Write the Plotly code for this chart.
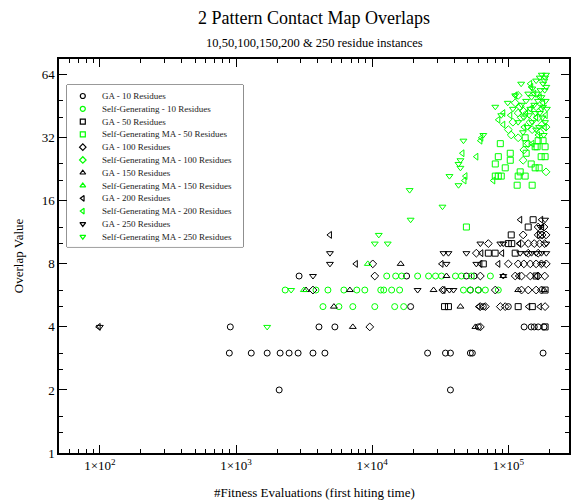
import plotly.graph_objects as go

# ---------------- data ----------------
ga10_x = [893, 1294, 1694, 2109, 2455, 2858, 3675, 4497, 25530, 34540, 37560, 52600, 54400, 179900,
          2075, 37560,
          908, 4066, 5323, 60200, 130600, 147200, 155000, 165600, 182800,
          19160, 65500, 100000,
          52600, 60200,
          2905, 17910, 49200, 56000]
ga10_y = [3]*14 + [2]*2 + [4]*9 + [5]*3 + [6]*2 + [7]*4

sg10_x = [12790, 14880, 16460, 21560, 25950, 29200, 32300, 40910, 45240, 53500, 73800,
          2296, 3866, 4732, 6196, 7713, 8831, 11560, 12160, 13900, 15910, 46800, 52600, 60200, 67800, 84400,
          4352, 5699, 7208, 10450, 14630, 17030]
sg10_y = [7]*11 + [6]*15 + [5]*6

ga50_x = [152100, 139900, 105000, 100000, 106000, 71300, 80000, 112300, 65500, 34000, 36320,
          118100, 150000, 186200, 186200, 160000, 172000]
ga50_y = [13, 12, 11, 10, 10, 9, 9, 9, 8, 5, 5, 5, 5, 6, 4, 7, 11]

sg50_x = [49200, 132900, 179900, 165600, 157400, 186200, 174200, 103300, 103300, 84400, 80200, 94900,
          135200, 162600, 147200, 157400, 168300, 80200, 84400, 88700, 118100, 132900, 116100, 149600,
          87300, 135200, 186200, 122200]
sg50_y = [12, 32, 31, 31, 29, 26, 26, 27, 25, 26, 24, 23,
          27, 29, 24, 23, 23, 21, 21, 21, 21, 21, 19, 19,
          30, 30, 29, 22]

ga100_x = [10100, 10450, 3675, 9601,
           165600, 182800,
           128500, 165600, 177000, 189200,
           71300, 124200, 140000, 155000, 170000, 185000,
           58200, 140000, 165600,
           100000, 118100, 130000, 145000, 160000, 175000, 190000,
           62300, 112300, 125000, 145000, 165600, 185000,
           33000, 80200, 125000, 140000, 160000, 175000,
           62300, 67800, 87300, 94900, 186200,
           62300]
ga100_y = [8, 7, 6, 4] + [12]*2 + [11]*4 + [10]*6 + [9]*3 + [8]*7 + [7]*6 + [6]*6 + [5]*5 + [4]

sg100_x = [118100, 112300, 122200, 128500, 118100, 124200, 100000, 105000, 118100, 149600, 189200,
           128500, 189200, 165600, 177000, 160000, 144600, 171000, 108000, 140000, 130000]
sg100_y = [51, 47, 45, 43, 42, 40, 35, 33, 32, 35, 36,
           25, 22, 40, 37, 45, 38, 34, 38, 30, 28]

ga150_x = [3268, 5236, 6855, 7208, 16190, 35130, 28240, 44480, 57300, 91800, 118100, 182800]
ga150_y = [6, 5, 6, 4, 8, 7, 6, 5, 4, 7, 6, 6]

sg150_x = [9290, 3150]
sg150_y = [8, 6]

ga200_x = [98, 4895, 7586, 122200, 174200, 177000, 120000, 63300, 90000, 32300, 62300, 84400,
           118100, 160000, 33390, 60200, 140000, 170000]
ga200_y = [4, 11, 8, 13, 13, 12, 10, 9, 9, 8, 8, 8,
           7, 7, 6, 5, 5, 5]

sg200_x = [46000, 58200, 48400, 47600, 144600, 103300, 91800, 84400, 91800, 63300, 62300, 77500,
           112300, 147200, 155000, 170000, 180000, 160000, 145000, 175000, 188000, 135000, 165000,
           185000, 150000, 130000]
sg200_y = [27, 26, 21, 20, 58, 41, 42, 39, 37, 32, 31, 20,
           51, 56, 52, 50, 47, 40, 44, 44, 41, 42, 33,
           36, 30, 36]

ga250_x = [100, 3675, 4895, 4895, 21560, 35130, 33390, 36320, 49200, 62300, 87300, 91800, 122200,
           135000, 148000, 160000, 175000, 190000, 58200, 36950, 39540, 91800, 186200, 190000,
           178000, 172000]
ga250_y = [4, 7, 9, 8, 6, 8, 9, 9, 9, 10, 10, 10, 9,
           9, 9, 9, 9, 9, 8, 6, 6, 7, 13, 10,
           8, 12]

sg250_x = [1694, 2541, 19160, 11180, 10450, 13010, 18840, 32830, 36950, 43050, 46800, 44480, 43050,
           44480, 65500, 80200, 88700, 112300, 124200, 189200, 186200, 140000, 150000, 160000, 170000,
           180000, 185000, 175000, 165000, 155000, 145000, 135000, 130000, 150000, 160000, 170000,
           180000, 188000, 190000, 178000, 168000, 158000, 148000, 138000, 128000, 182000, 186000,
           192000, 172000, 162000, 176000, 184000, 142000, 125000, 118000, 99000, 108000]
sg250_y = [4, 6, 13, 11, 10, 10, 18, 15, 21, 19, 31, 25, 24,
           23, 33, 45, 41, 51, 58, 64, 62, 52, 55, 60, 62,
           58, 54, 50, 48, 46, 44, 48, 40, 38, 35, 42,
           45, 48, 56, 40, 36, 42, 50, 36, 34, 33, 38,
           44, 54, 52, 64, 60, 41, 46, 38, 47, 44]

series = [
    ("GA - 10 Residues", ga10_x, ga10_y, "circle-open", "black", 6),
    ("Self-Generating - 10 Residues", sg10_x, sg10_y, "circle-open", "#00ff00", 6),
    ("GA - 50 Residues", ga50_x, ga50_y, "square-open", "black", 6),
    ("Self-Generating MA - 50 Residues", sg50_x, sg50_y, "square-open", "#00ff00", 6),
    ("GA - 100 Residues", ga100_x, ga100_y, "diamond-open", "black", 6),
    ("Self-Generating MA - 100 Residues", sg100_x, sg100_y, "diamond-open", "#00ff00", 6),
    ("GA - 150 Residues", ga150_x, ga150_y, "triangle-up-open", "black", 6),
    ("Self-Generating MA - 150 Residues", sg150_x, sg150_y, "triangle-up-open", "#00ff00", 6),
    ("GA - 200 Residues", ga200_x, ga200_y, "triangle-left-open", "black", 6),
    ("Self-Generating MA - 200 Residues", sg200_x, sg200_y, "triangle-left-open", "#00ff00", 6),
    ("GA - 250 Residues", ga250_x, ga250_y, "triangle-down-open", "black", 6),
    ("Self-Generating MA - 250 Residues", sg250_x, sg250_y, "triangle-down-open", "#00ff00", 6),
]

x_tickvals = [100, 1000, 10000, 100000]
x_ticktext = ["1×10<sup>2</sup>", "1×10<sup>3</sup>", "1×10<sup>4</sup>", "1×10<sup>5</sup>"]
y_tickvals = [1, 2, 4, 8, 16, 32, 64]
y_ticktext = ["1", "2", "4", "8", "16", "32", "64"]
x_minor = [m * 10 ** e for e in range(1, 6) for m in range(2, 10)]
y_minor = [1.25, 1.5, 2.5, 3, 5, 6, 10, 12, 20, 24, 40, 48]

FONT = "Liberation Serif"

fig = go.Figure()
for name, xs, ys, sym, col, sz in series:
    fig.add_trace(go.Scatter(x=xs, y=ys, mode="markers", name=name, showlegend=False,
                             marker=dict(symbol=sym, size=sz, color=col, line=dict(width=1, color=col))))

# manual compact legend on an auxiliary axis pair
for i, (name, xs, ys, sym, col, sz) in enumerate(series):
    fig.add_trace(go.Scatter(x=[0.09], y=[i], mode="markers", showlegend=False, hoverinfo="skip",
                             xaxis="x2", yaxis="y2",
                             marker=dict(symbol=sym, size=sz - 1, color=col, line=dict(width=1.2, color=col))))
    fig.add_annotation(x=0.19, y=i, xref="x2", yref="y2", text=name, showarrow=False,
                       xanchor="left", yanchor="middle", font=dict(family=FONT, size=9, color="#222"))

leg_x0, leg_x1, leg_y0, leg_y1 = 0.0156, 0.361, 0.523, 0.934
fig.add_shape(type="rect", xref="paper", yref="paper", x0=leg_x0, x1=leg_x1, y0=leg_y0, y1=leg_y1,
              line=dict(color="#333", width=1), fillcolor="white", layer="below")

axis_common = dict(showline=True, linecolor="black", linewidth=1.5, mirror="ticks", ticks="inside",
                   tickcolor="black", tickwidth=1, ticklen=8, showgrid=False, zeroline=False,
                   tickfont=dict(family=FONT, size=13, color="black"))

fig.update_layout(
    width=572, height=500,
    margin=dict(l=59, r=1, t=59, b=47),
    paper_bgcolor="white", plot_bgcolor="white",
    font=dict(family=FONT, color="black"),
    xaxis=dict(type="log", range=[1.70, 5.4455], tickmode="array", tickvals=x_tickvals, ticktext=x_ticktext,
               minor=dict(tickmode="array", tickvals=x_minor, ticks="inside", ticklen=4, tickcolor="black",
                          showgrid=False), **axis_common),
    yaxis=dict(type="log", range=[0, 1.8814], tickmode="array", tickvals=y_tickvals, ticktext=y_ticktext,
               minor=dict(tickmode="array", tickvals=y_minor, ticks="inside", ticklen=4, tickcolor="black",
                          showgrid=False), **axis_common),
    xaxis2=dict(domain=[leg_x0, leg_x1], range=[0, 1], visible=False, anchor="y2", fixedrange=True),
    yaxis2=dict(domain=[leg_y0, leg_y1], range=[11.8, -0.86], visible=False, anchor="x2", fixedrange=True),
)

fig.add_annotation(x=0.5, y=1.104, xref="paper", yref="paper", text="2 Pattern Contact Map Overlaps",
                   showarrow=False, font=dict(family=FONT, size=18, color="black"), yanchor="middle")
fig.add_annotation(x=0.5, y=1.041, xref="paper", yref="paper",
                   text="10,50,100,150,200 &amp; 250 residue instances",
                   showarrow=False, font=dict(family=FONT, size=12.5, color="black"), yanchor="middle")
fig.add_annotation(x=0.5, y=-0.099, xref="paper", yref="paper",
                   text="#Fitness Evaluations (first hiting time)",
                   showarrow=False, font=dict(family=FONT, size=13, color="black"), yanchor="middle")
fig.add_annotation(x=-0.080, y=0.5, xref="paper", yref="paper", text="Overlap Value", textangle=-90,
                   showarrow=False, font=dict(family=FONT, size=13, color="black"), xanchor="center")

fig.write_html("out.html")
